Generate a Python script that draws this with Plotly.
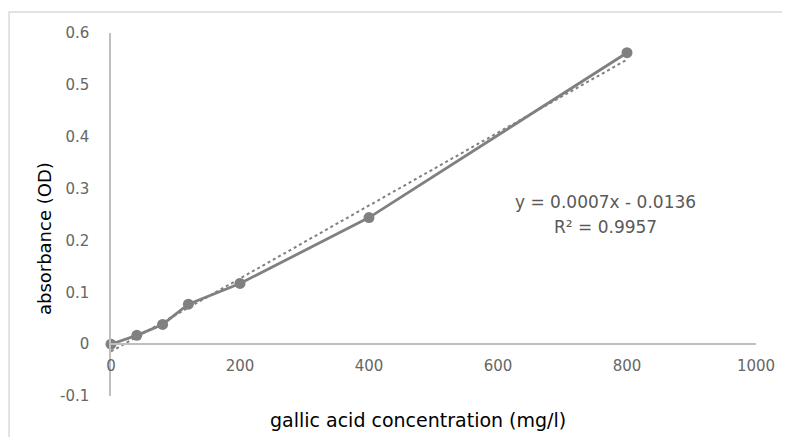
import numpy as np
import plotly.graph_objects as go

# Data
concentration = [0, 40, 80, 120, 200, 400, 800]
absorbance = [0.0, 0.017, 0.038, 0.077, 0.117, 0.244, 0.562]

x_tickvals = [0, 200, 400, 600, 800, 1000]
x_ticktext = ["0", "200", "400", "600", "800", "1000"]
y_tickvals = [-0.1, 0, 0.1, 0.2, 0.3, 0.4, 0.5, 0.6]
y_ticktext = ["-0.1", "0", "0.1", "0.2", "0.3", "0.4", "0.5", "0.6"]

equation_text = "y = 0.0007x - 0.0136"
r2_text = "R² = 0.9957"

# Linear trendline (least squares) over the data range
slope, intercept = np.polyfit(concentration, absorbance, 1)
trend_x = [min(concentration), max(concentration)]
trend_y = [slope * v + intercept for v in trend_x]

grey = "#808080"
tick_grey = "#666666"

fig = go.Figure()
fig.add_trace(go.Scatter(
    x=trend_x, y=trend_y, mode="lines",
    line=dict(color=grey, width=2, dash="dot"),
    hoverinfo="skip", showlegend=False, cliponaxis=False,
))
fig.add_trace(go.Scatter(
    x=concentration, y=absorbance, mode="lines+markers",
    line=dict(color=grey, width=2.8),
    marker=dict(color=grey, size=11),
    showlegend=False, cliponaxis=False,
))

# The page body has an 8px margin, so the figure is sized to fit the window.
fig.update_layout(
    width=782, height=429,
    margin=dict(l=103, r=34, t=25, b=41, autoexpand=False),
    paper_bgcolor="white", plot_bgcolor="white",
    font=dict(family="DejaVu Sans", color=tick_grey),
    xaxis=dict(
        range=[0, 1000], tickvals=x_tickvals, ticktext=x_ticktext,
        showgrid=False, zeroline=False, showline=True,
        linecolor="#bfbfbf", linewidth=1.5, ticks="",
        anchor="free", position=1/7,
        tickfont=dict(family="DejaVu Sans", size=15, color=tick_grey),
        ticklabelstandoff=8,
    ),
    yaxis=dict(
        range=[-0.1, 0.6], tickvals=y_tickvals, ticktext=y_ticktext,
        showgrid=False, zeroline=False, showline=True,
        linecolor="#bfbfbf", linewidth=1.5, ticks="",
        tickfont=dict(family="DejaVu Sans", size=15, color=tick_grey),
        ticklabelstandoff=17,
    ),
    shapes=[dict(
        type="rect", xref="paper", yref="paper",
        x0=-0.158, x1=1.2, y0=-0.3, y1=1.0579,
        line=dict(color="#d9d9d9", width=1.5), fillcolor="rgba(0,0,0,0)",
        layer="below",
    )],
    annotations=[
        dict(text="gallic acid concentration (mg/l)", xref="paper", yref="paper",
             x=0.476, y=-0.066, xanchor="center", yanchor="middle", showarrow=False,
             font=dict(family="DejaVu Sans", size=19, color="black")),
        dict(text="absorbance (OD)", xref="paper", yref="paper",
             x=-0.1039, y=0.435, xanchor="center", yanchor="middle", showarrow=False,
             textangle=-90,
             font=dict(family="DejaVu Sans", size=18, color="black")),
        dict(text=equation_text, xref="paper", yref="paper",
             x=0.767, y=0.534, xanchor="center", yanchor="middle", showarrow=False,
             font=dict(family="DejaVu Sans", size=17, color="#595959")),
        dict(text=r2_text, xref="paper", yref="paper",
             x=0.767, y=0.466, xanchor="center", yanchor="middle", showarrow=False,
             font=dict(family="DejaVu Sans", size=17, color="#595959")),
    ],
)

fig.write_html("out.html")
